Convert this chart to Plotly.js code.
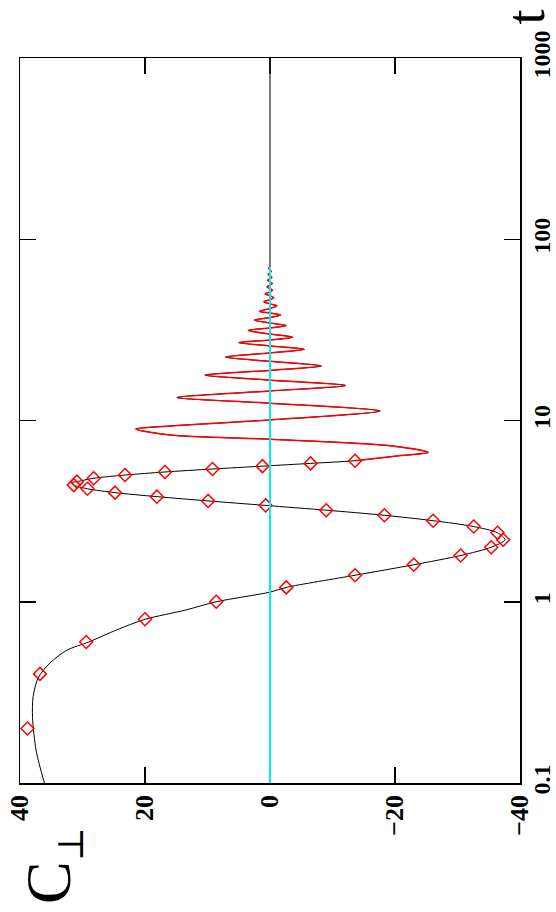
<!DOCTYPE html>
<html>
<head>
<meta charset="utf-8">
<script src="https://cdn.plot.ly/plotly-3.0.1.min.js"></script>
<style>html,body{margin:0;padding:0;background:#fff;}#chart{width:556px;height:912px;}</style>
</head>
<body>
<div id="chart"></div>
<script>
// ---- data (t = time, log axis; C = C_perp) ----
// black curve, early part (t <= 6)
var tEarly = [0.1, 0.15, 0.23, 0.3, 0.38, 0.46, 0.54, 0.6, 0.7, 0.8, 0.9, 1.0, 1.13, 1.2, 1.4, 1.6, 1.8, 2.0, 2.2, 2.4, 2.6, 2.8, 3.0, 3.2, 3.4, 3.6, 3.8, 4.0, 4.2, 4.4, 4.54, 4.6, 4.8, 5.0, 5.2, 5.4, 5.6, 5.8];
var cEarly = [36.1, 37.4, 38.0, 37.9, 37.1, 35.2, 32.5, 29.0, 24.5, 20.0, 13.5, 8.6, 0.0, -2.6, -13.6, -23.0, -30.5, -35.4, -37.6, -36.4, -32.6, -26.1, -18.3, -9.0, 0.7, 9.9, 18.1, 24.8, 29.2, 31.4, 31.7, 30.9, 28.2, 23.2, 16.8, 9.2, 1.2, -6.5];
// red diamonds
var tMarkers = [0.2, 0.4, 0.6, 0.8, 1.0, 1.2, 1.4, 1.6, 1.8, 2.0, 2.2, 2.4, 2.6, 2.8, 3.0, 3.2, 3.4, 3.6, 3.8, 4.0, 4.2, 4.4, 4.6, 4.8, 5.0, 5.2, 5.4, 5.6, 5.8, 6.0];
var cMarkers = [38.8, 36.8, 29.4, 20.0, 8.6, -2.6, -13.6, -23.0, -30.5, -35.4, -37.3, -36.4, -32.6, -26.1, -18.3, -9.0, 0.7, 9.9, 18.1, 24.8, 29.2, 31.4, 30.9, 28.2, 23.2, 16.8, 9.2, 1.2, -6.5, -13.6];
// oscillating part (red line, black underneath)
var tOsc = [6.0, 6.37, 6.67, 7.26, 7.88, 8.32, 8.98, 9.33, 10.07, 11.28, 12.45, 13.39, 14.55, 15.6, 16.7, 17.8, 18.9, 20.0, 21.2, 22.4, 23.6, 24.7, 25.8, 26.9, 27.8, 28.8, 30.0, 31.4, 32.4, 33.4, 34.5, 35.8, 37.0, 38.2, 39.2, 40.0, 41.5, 42.9, 44.0, 45.2, 46.4, 47.6, 48.8, 50.0, 51.2, 52.3, 53.4, 54.6, 55.8, 57.0, 58.2, 59.4, 60.5, 61.7, 62.9, 64.0, 65.2, 66.5, 67.8, 69.0, 70.5];
var cOsc = [-13.6, -20.3, -25.3, -19.2, 0.0, 16.0, 21.5, 16.0, 0.0, -17.6, 0.0, 14.9, 0.0, -12.1, 0.0, 10.4, 0.0, -8.2, 0.0, 7.1, 0.0, -5.5, 0.0, 5.0, 0.0, -3.6, 0.0, 3.5, 0.0, -2.6, 0.0, 2.5, 0.0, -1.7, 0.0, 1.7, 0.0, -1.1, 0.0, 1.0, 0.0, -0.6, 0.0, 0.8, 0.0, -0.4, 0.0, 0.5, 0.0, -0.4, 0.0, 0.4, 0.0, -0.3, 0.0, 0.3, 0.0, -0.2, 0.0, 0.2, 0.0];
// long-time tail
var tTail = [70.5, 1000];
var cTail = [0, 0];
// zero reference (cyan)
var tZero = [0.08, 70];
var cZero = [0, 0];
// ticks
var cTickVals = [40, 20, 0, -20, -40];
var cTickText = ['40', '20', '0', '\u221220', '\u221240'];
var tTickVals = [0.1, 1, 10, 100, 1000];
var tTickText = ['0.1', '1', '10', '100', '1000'];

var tBlack = tEarly.concat(tOsc);
var cBlack = cEarly.concat(cOsc);

var traces = [
  {x: cTail, y: tTail, type: 'scatter', mode: 'lines',
   line: {color: '#222222', width: 1.2}, hoverinfo: 'skip'},
  {x: cBlack, y: tBlack, type: 'scatter', mode: 'lines',
   line: {color: '#000000', width: 1, shape: 'spline', smoothing: 0.8}, hoverinfo: 'skip'},
  {x: cOsc, y: tOsc, type: 'scatter', mode: 'lines',
   line: {color: '#ff0000', width: 1.5, shape: 'spline', smoothing: 0.8}, hoverinfo: 'skip'},
  {x: cMarkers, y: tMarkers, type: 'scatter', mode: 'markers',
   marker: {symbol: 'diamond-open', size: 10, color: '#ff0000', line: {width: 1.5, color: '#ff0000'}}, hoverinfo: 'skip'},
  {x: cZero, y: tZero, type: 'scatter', mode: 'lines',
   line: {color: '#00f0f0', width: 2}, hoverinfo: 'skip'}
];

var serif = 'Liberation Serif, Times New Roman, serif';
var tickFontC = {family: serif, size: 26, color: '#000', weight: 'bold'};
var tickFontT = {family: serif, size: 24, color: '#000', weight: 'bold'};

var layout = {
  width: 556, height: 912,
  margin: {l: 20, r: 36, t: 58, b: 129, pad: 0},
  paper_bgcolor: '#ffffff', plot_bgcolor: '#ffffff',
  showlegend: false,
  xaxis: {
    range: [40, -40], tickmode: 'array', tickvals: cTickVals, ticktext: cTickText,
    tickangle: -90, ticks: 'inside', ticklen: 16, tickwidth: 1.5, tickcolor: '#000',
    showline: true, linewidth: 1.5, linecolor: '#000', mirror: 'ticks', layer: 'below traces',
    showgrid: false, zeroline: false, tickfont: tickFontC
  },
  yaxis: {
    type: 'log', range: [-1, 3], side: 'right', tickmode: 'array', tickvals: tTickVals, ticktext: tTickText,
    tickangle: -90, ticks: 'inside', ticklen: 16, tickwidth: 1.5, tickcolor: '#000',
    showline: true, linewidth: 1.5, linecolor: '#000', mirror: 'ticks',
    showgrid: false, zeroline: false, tickfont: tickFontT
  },
  annotations: [
    {text: 't', xref: 'paper', yref: 'paper', x: 1.012, y: 1.056, showarrow: false, textangle: -90,
     xanchor: 'center', yanchor: 'middle', font: {family: serif, size: 54, color: '#000'}},
    {text: 'C', xref: 'paper', yref: 'paper', x: 0.056, y: -0.138, showarrow: false, textangle: -90,
     xanchor: 'center', yanchor: 'middle', font: {family: serif, size: 64, color: '#000'}},
    {text: '\u22A5', xref: 'paper', yref: 'paper', x: 0.102, y: -0.084, showarrow: false, textangle: -90,
     xanchor: 'center', yanchor: 'middle', font: {family: 'DejaVu Serif, serif', size: 36, color: '#000'}}
  ]
};

Plotly.newPlot('chart', traces, layout, {staticPlot: true, displayModeBar: false});
</script>
</body>
</html>
